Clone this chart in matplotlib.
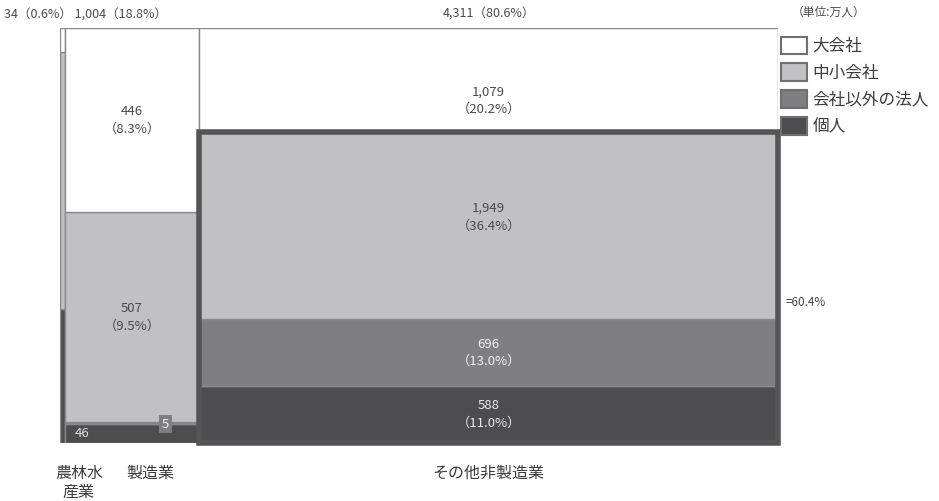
import matplotlib.pyplot as plt
from matplotlib.patches import Rectangle, Patch

plt.rcParams['font.family'] = ['Noto Sans CJK JP', 'DejaVu Sans']

# 業種ごとの従業者数 (万人)
industries = ['農林水\n産業', '製造業', 'その他非製造業']
series = ['大会社', '中小会社', '会社以外の法人', '個人']
# bottom -> top order in the stack: 個人, 会社以外の法人, 中小会社, 大会社
kojin = [11, 46, 588]
hojin = [0, 5, 696]
chusho = [21, 507, 1949]
daikaisha = [2, 446, 1079]
colors = {'大会社': '#ffffff', '中小会社': '#c1c1c3',
          '会社以外の法人': '#7f7f82', '個人': '#4d4d4f'}
text_colors = {'大会社': '#4a4a4a', '中小会社': '#4a4a4a',
               '会社以外の法人': '#f0f0f0', '個人': '#e8e8e8'}

stacks = {'個人': kojin, '会社以外の法人': hojin, '中小会社': chusho, '大会社': daikaisha}
order = ['個人', '会社以外の法人', '中小会社', '大会社']
totals = [sum(stacks[s][i] for s in order) for i in range(len(industries))]
totals[2] = 4311
grand = sum(totals)

fig = plt.figure(figsize=(9.39, 5.01), dpi=100)
W, H = 939, 501
ax = fig.add_axes([60 / W, (H - 443) / H, 718 / W, 415 / H])
ax.set_xlim(0, grand)
ax.set_ylim(0, 1)
ax.axis('off')

x0 = 0
lefts = []
for i, name in enumerate(industries):
    w = totals[i]
    lefts.append(x0)
    col_sum = sum(stacks[s][i] for s in order)
    y = 0
    for s in order:
        h = stacks[s][i] / col_sum
        ax.add_patch(Rectangle((x0, y), w, h, facecolor=colors[s],
                               edgecolor='#8a8a8a', lw=1.0))
        y += h
    x0 += w

# value labels for the big segments
def seg_label(i, s, dy=0.0):
    col_sum = sum(stacks[t][i] for t in order)
    below = sum(stacks[t][i] for t in order[:order.index(s)]) / col_sum
    h = stacks[s][i] / col_sum
    v = stacks[s][i]
    ax.text(lefts[i] + totals[i] / 2, below + h / 2 + dy,
            f'{v:,}\n（{v / grand * 100:.1f}%）', ha='center', va='center',
            fontsize=9.5, color=text_colors[s], linespacing=1.45)

seg_label(1, '大会社')
seg_label(1, '中小会社')
seg_label(2, '大会社', dy=-0.05)
seg_label(2, '中小会社', dy=0.02)
seg_label(2, '会社以外の法人')
seg_label(2, '個人')

# small values in 製造業
ax.text(lefts[1] + totals[1] * 0.13, 0.022, f'{kojin[1]}', ha='center', va='center',
        fontsize=9.5, color='#e0e0e0')
ax.text(lefts[1] + totals[1] * 0.75, 0.045, f'{hojin[1]}', ha='center', va='center',
        fontsize=9.5, color='#f0f0f0',
        bbox=dict(boxstyle='square,pad=0.2', facecolor=colors['会社以外の法人'],
                  edgecolor='none'))

# thick frame around the 60.4% block
col_sum = sum(stacks[t][2] for t in order)
frame_h = (kojin[2] + hojin[2] + chusho[2]) / col_sum
ax.add_patch(Rectangle((lefts[2], 0), totals[2], frame_h, fill=False,
                       edgecolor='#555555', lw=4, clip_on=False, zorder=5))
ax.text(1.01, frame_h * 0.45, f'={(kojin[2] + hojin[2] + chusho[2]) / grand * 100:.1f}%',
        transform=ax.transAxes, ha='left', va='center', fontsize=8.5, color='#444444')

# column totals on top
fig.text(4 / W, 1 - 15 / H,
         f'{totals[0]}（{totals[0] / grand * 100:.1f}%） {totals[1]:,}（{totals[1] / grand * 100:.1f}%）',
         ha='left', va='center', fontsize=9, color='#4a4a4a')
ax.annotate(f'{totals[2]:,}（{totals[2] / grand * 100:.1f}%）',
            (lefts[2] + totals[2] / 2, 1), xytext=(0, 10), textcoords='offset points',
            ha='center', va='center', fontsize=9, color='#4a4a4a')
fig.text(792 / W, 1 - 12 / H, '（単位:万人）', ha='left', va='center',
         fontsize=8.5, color='#4a4a4a')

# category labels
offsets = [12, 13, 0]
for i, name in enumerate(industries):
    ax.annotate(name, (lefts[i] + totals[i] / 2, 0), xytext=(offsets[i], -16),
                textcoords='offset points', ha='center', va='top', fontsize=11.5,
                color='#3c3c3c', linespacing=1.1, annotation_clip=False)

handles = [Patch(facecolor=colors[s], edgecolor='#6f6f6f', lw=1.5) for s in series]
leg = fig.legend(handles, series, loc='upper left', bbox_to_anchor=(774 / W, 1 - 30 / H),
                 frameon=False, fontsize=12, handlelength=1.6, handleheight=1.25,
                 handletextpad=0.3, labelspacing=0.5, borderaxespad=0)
for t in leg.get_texts():
    t.set_color('#3c3c3c')

fig.savefig('out.png', dpi=100)
